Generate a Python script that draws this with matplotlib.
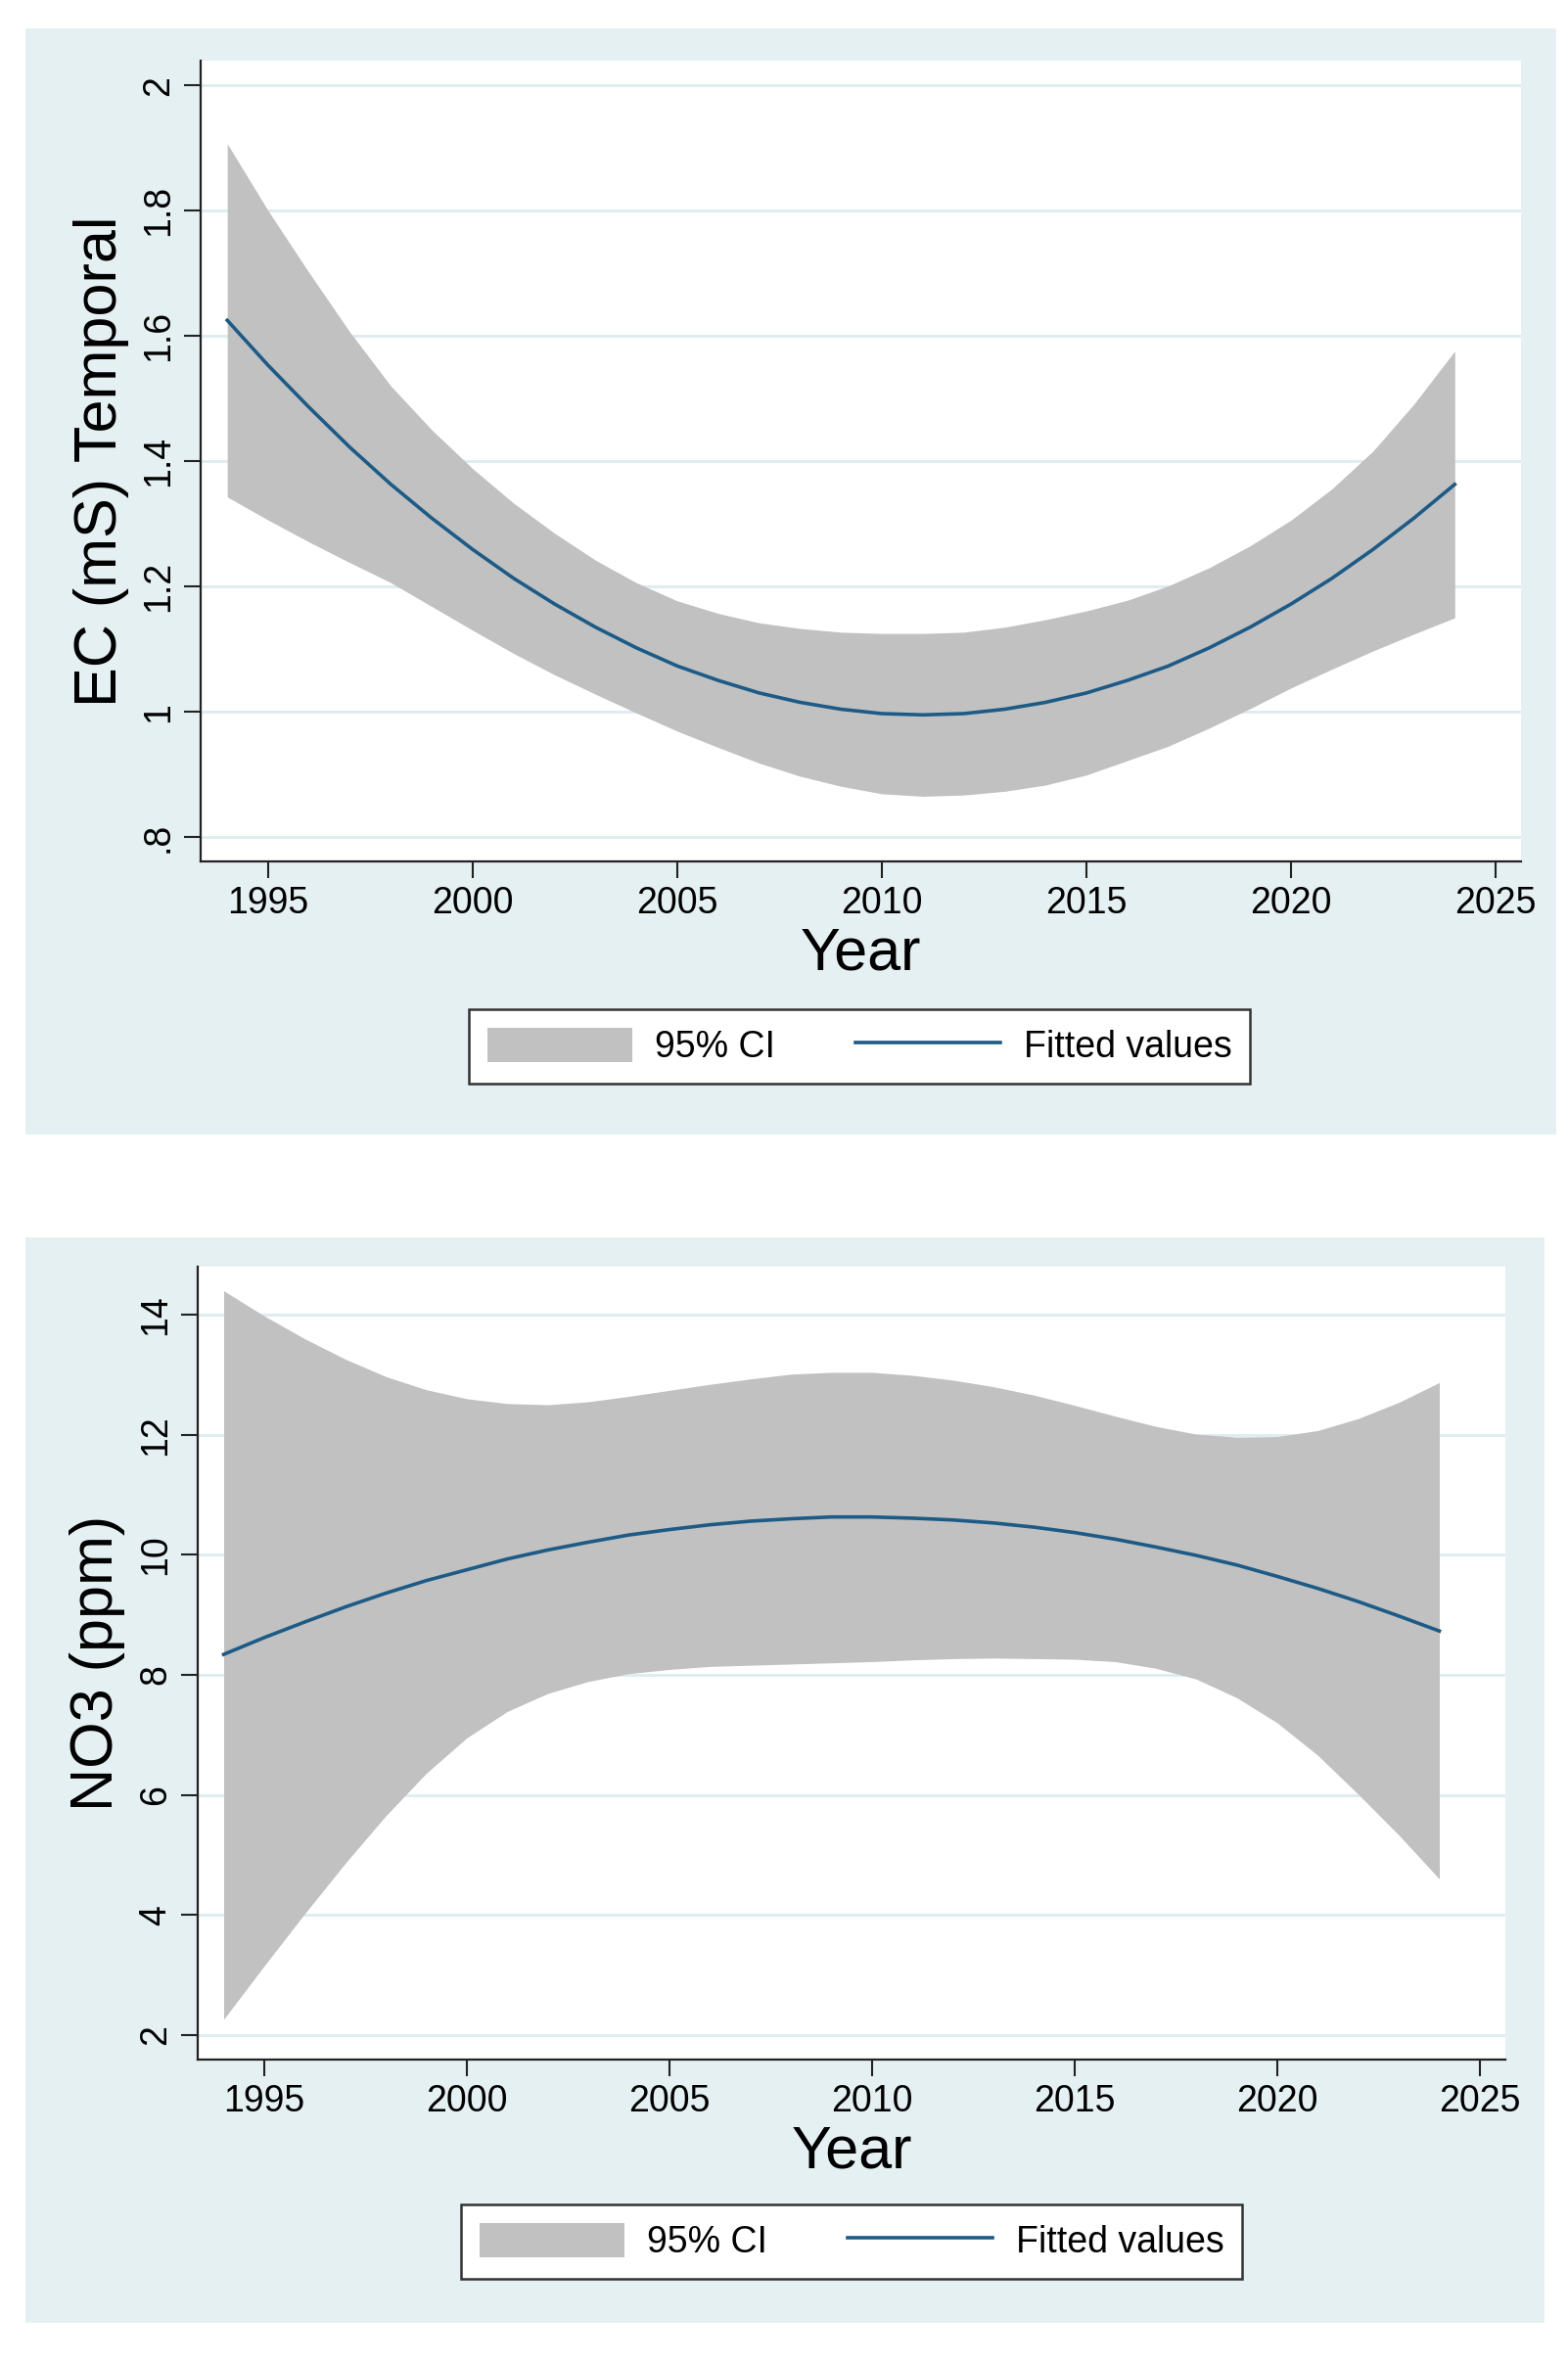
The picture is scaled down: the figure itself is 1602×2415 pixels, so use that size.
import numpy as np
import matplotlib
matplotlib.use("Agg")
import matplotlib.pyplot as plt
from matplotlib.patches import Rectangle, Patch
from matplotlib.lines import Line2D

# values, one per year
years = list(range(1994, 2025))

ec_fit = [1.625, 1.553, 1.486, 1.422, 1.363, 1.309, 1.259, 1.213, 1.172, 1.135,
          1.102, 1.073, 1.050, 1.030, 1.015, 1.004, 0.997, 0.995, 0.997, 1.004,
          1.015, 1.030, 1.050, 1.073, 1.102, 1.135, 1.172, 1.213, 1.259, 1.309,
          1.363]
ec_lo = [1.343, 1.306, 1.271, 1.238, 1.206, 1.168, 1.130, 1.093, 1.059, 1.028,
         0.998, 0.969, 0.943, 0.918, 0.897, 0.881, 0.869, 0.865, 0.867, 0.873,
         0.883, 0.899, 0.922, 0.945, 0.974, 1.005, 1.038, 1.068, 1.097, 1.124,
         1.150]
ec_hi = [1.907, 1.800, 1.701, 1.606, 1.520, 1.450, 1.388, 1.333, 1.285, 1.242,
         1.206, 1.177, 1.157, 1.142, 1.133, 1.127, 1.125, 1.125, 1.127, 1.135,
         1.147, 1.161, 1.178, 1.201, 1.230, 1.265, 1.306, 1.356, 1.416, 1.491,
         1.576]

no3_fit = [8.34, 8.62, 8.88, 9.13, 9.36, 9.57, 9.75, 9.93, 10.08, 10.21,
           10.33, 10.42, 10.50, 10.56, 10.60, 10.63, 10.63, 10.61, 10.58, 10.53,
           10.46, 10.37, 10.26, 10.13, 9.99, 9.83, 9.64, 9.44, 9.22, 8.98,
           8.73]
no3_lo = [2.26, 3.15, 4.02, 4.86, 5.65, 6.36, 6.95, 7.39, 7.69, 7.89,
          8.02, 8.09, 8.14, 8.16, 8.18, 8.20, 8.22, 8.25, 8.27, 8.28,
          8.27, 8.26, 8.22, 8.11, 7.93, 7.62, 7.20, 6.66, 6.01, 5.33,
          4.60]
no3_hi = [14.40, 13.98, 13.60, 13.26, 12.97, 12.75, 12.60, 12.52, 12.50, 12.55,
          12.64, 12.74, 12.84, 12.93, 13.01, 13.04, 13.04, 12.99, 12.91, 12.80,
          12.66, 12.49, 12.31, 12.14, 12.01, 11.96, 11.97, 12.07, 12.27, 12.54,
          12.87]

x_ticks = [1995, 2000, 2005, 2010, 2015, 2020, 2025]
ec_ticks = [0.8, 1.0, 1.2, 1.4, 1.6, 1.8, 2.0]
ec_tick_labels = [".8", "1", "1.2", "1.4", "1.6", "1.8", "2"]
no3_ticks = [2, 4, 6, 8, 10, 12, 14]
no3_tick_labels = ["2", "4", "6", "8", "10", "12", "14"]

BG = "#e5f0f2"
GRID = "#e0edf0"
CI = "#c1c1c1"
LINE = "#1d5b86"
AXC = "#222222"

plt.rcParams["font.family"] = ["Liberation Sans", "DejaVu Sans"]

W, H = 1602, 2415
fig = plt.figure(figsize=(W / 100, H / 100), dpi=100, facecolor="white")


def px_rect(x0, y0, x1, y1):
    # pixel box (top-left origin) -> figure fraction rect
    return [x0 / W, 1 - y1 / H, (x1 - x0) / W, (y1 - y0) / H]


def panel(bg_box, ax_box, fit, lo, hi, yticks, ylabels, ylim, xlim, ylab, leg_xy):
    r = px_rect(*bg_box)
    fig.patches.append(Rectangle((r[0], r[1]), r[2], r[3], transform=fig.transFigure,
                                 facecolor=BG, edgecolor="none", zorder=-1))
    ax = fig.add_axes(px_rect(*ax_box))
    ax.set_facecolor("white")
    ax.fill_between(years, lo, hi, color=CI, linewidth=0, zorder=2)
    ax.plot(years, fit, color=LINE, lw=2.6, zorder=3)

    ax.set_xlim(*xlim)
    ax.set_ylim(*ylim)
    ax.set_xticks(x_ticks)
    ax.set_yticks(yticks)
    ax.set_yticklabels(ylabels, rotation=90, va="center")
    ax.yaxis.grid(True, color=GRID, lw=2.2)
    ax.set_axisbelow(True)

    for s in ["top", "right"]:
        ax.spines[s].set_visible(False)
    for s in ["left", "bottom"]:
        ax.spines[s].set_color(AXC)
        ax.spines[s].set_linewidth(1.6)
    ax.tick_params(axis="both", direction="out", length=12, width=1.5,
                   color=AXC, labelsize=27, labelcolor="black")
    ax.tick_params(axis="x", pad=6)
    ax.tick_params(axis="y", pad=6)

    ax.set_xlabel("Year", fontsize=44, va="center")
    ax.xaxis.set_label_coords(0.5, -95 / (ax_box[3] - ax_box[1]))
    ax.set_ylabel(ylab, fontsize=44, va="center", ha="center")
    ax.yaxis.set_label_coords(-102 / (ax_box[2] - ax_box[0]), 0.5)

    handles = [Patch(facecolor=CI, edgecolor="none"),
               Line2D([], [], color=LINE, lw=2.6)]
    leg = ax.legend(handles, ["95% CI", "Fitted values"], loc="center",
                    bbox_to_anchor=(leg_xy[0] / W, 1 - leg_xy[1] / H),
                    bbox_transform=fig.transFigure, ncol=2, fontsize=27,
                    frameon=True, fancybox=False, framealpha=1,
                    handlelength=3.95, handleheight=1.07, handletextpad=0.62,
                    columnspacing=2.2, borderpad=0.5)
    leg.get_frame().set_edgecolor("#333333")
    leg.get_frame().set_linewidth(1.8)
    return ax


panel((26, 29, 1590, 1159), (205, 62, 1554, 880), ec_fit, ec_lo, ec_hi,
      ec_ticks, ec_tick_labels, (0.761, 2.0395), (1993.35, 2025.62),
      "EC (mS) Temporal", (878, 1069))

panel((26, 1264, 1578, 2373), (202, 1294, 1538, 2104), no3_fit, no3_lo, no3_hi,
      no3_ticks, no3_tick_labels, (1.59, 14.8), (1993.36, 2025.63),
      "NO3 (ppm)", (870, 2290))

fig.savefig("out.png", dpi=100, facecolor="white")
